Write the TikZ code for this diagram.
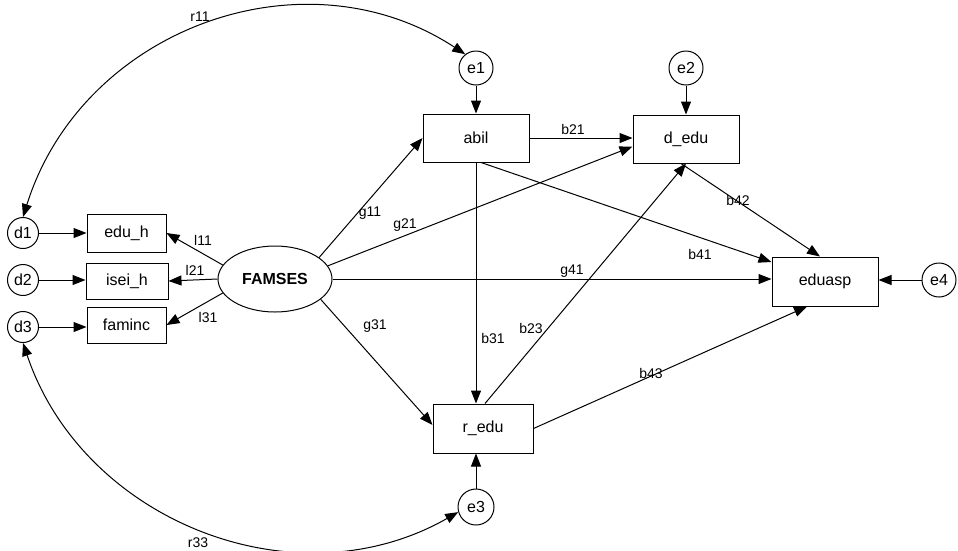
\documentclass[tikz,border=0pt]{standalone}
\usepackage{fontspec}
\setmainfont{Liberation Sans}
\usetikzlibrary{arrows.meta,shapes.geometric}
\begin{document}
\begin{tikzpicture}[x=1pt,y=-1pt,
  obs/.style={draw,line width=1pt,inner sep=0pt,font=\fontsize{16}{18}\selectfont},
  errc/.style={draw,circle,line width=1pt,inner sep=0pt,font=\fontsize{16}{18}\selectfont},
  lat/.style={draw,ellipse,line width=1pt,inner sep=0pt,minimum width=114pt,minimum height=66pt,font=\bfseries\fontsize{16}{18}\selectfont},
  pth/.style={line width=1pt,-{Triangle[length=13pt,width=10pt]}},
  cov/.style={line width=1pt,{Triangle[length=13pt,width=10pt]}-{Triangle[length=13pt,width=10pt]}},
  lab/.style={font=\fontsize{14}{16}\selectfont,inner sep=1pt}]
\useasboundingbox (0,0) rectangle (958,550);
% nodes
\node[errc,minimum size=31pt] (d1) at (23,233) {d1};
\node[errc,minimum size=31pt] (d2) at (23,280) {d2};
\node[errc,minimum size=31pt] (d3) at (23,327) {d3};
\node[obs,minimum width=79pt,minimum height=38pt] (eduh) at (126.5,233) {edu\_h};
\node[obs,minimum width=82pt,minimum height=36pt] (isei) at (127,281) {isei\_h};
\node[obs,minimum width=79pt,minimum height=36pt] (faminc) at (126.5,325) {faminc};
\node[lat] (fam) at (275,279) {FAMSES};
\node[obs,minimum width=106pt,minimum height=48pt] (abil) at (476,138) {abil};
\node[obs,minimum width=106pt,minimum height=48pt] (dedu) at (686,139) {d\_edu};
\node[obs,minimum width=106pt,minimum height=49pt] (eduasp) at (825,281.5) {eduasp};
\node[obs,minimum width=100pt,minimum height=49pt] (redu) at (483,428.5) {r\_edu};
\node[errc,minimum size=34pt] (e1) at (476,68) {e1};
\node[errc,minimum size=34pt] (e2) at (686,68) {e2};
\node[errc,minimum size=36pt] (e3) at (476,507) {e3};
\node[errc,minimum size=34pt] (e4) at (939,280) {e4};
% measurement
\draw[pth] (d1) -- (eduh);
\draw[pth] (d2) -- (d2 -| isei.west);
\draw[pth] (d3) -- (d3 -| faminc.west);
\draw[pth] (fam.165) -- (eduh.east);
\draw[pth] (fam.west) -- (isei.east);
\draw[pth] (fam.195) -- (faminc.east);
% structural
\draw[pth] (fam.26) -- (abil.west);
\draw[pth] (fam.14) -- (dedu.188);
\draw[pth] (fam.east) -- (fam.east -| eduasp.west);
\draw[pth] (fam.-24) -- (redu.176);
\draw[pth] (abil.east) -- (abil.east -| dedu.west);
\draw[pth] (abil.south) -- (abil.south |- redu.north);
\draw[pth] ([xshift=5pt]abil.south) -- (eduasp.160);
\draw[pth] ([xshift=-5pt]dedu.south) -- ([xshift=-5pt]eduasp.north);
\draw[pth] ([xshift=2pt]redu.north) -- (dedu.south);
\draw[pth] (redu.east) -- ([xshift=-18pt]eduasp.south);
% errors
\draw[pth] (e1) -- (abil);
\draw[pth] (e2) -- (dedu);
\draw[pth] (e3.north) -- (e3.north |- redu.south);
\draw[pth] (e4.west) -- (e4.west -| eduasp.east);
% covariances
\draw[cov] (d1.north) .. controls (82,29) and (303,-52) .. (e1.128);
\draw[cov] (d3.south) .. controls (83,521) and (295,605) .. (e3.196);
% labels
\node[lab] (lr11) at (200,17) {r11};
\node[lab] (lr33) at (198,543) {r33};
\node[lab] (ll11) at (203,240) {l11};
\node[lab] (ll21) at (195,270) {l21};
\node[lab] (ll31) at (208,317) {l31};
\node[lab] (lg11) at (370,213) {g11};
\node[lab] (lg21) at (405,225) {g21};
\node[lab] (lg41) at (572,271) {g41};
\node[lab] (lg31) at (375,326) {g31};
\node[lab] (lb21) at (573,129) {b21};
\node[lab] (lb41) at (700,254) {b41};
\node[lab] (lb42) at (738,200) {b42};
\node[lab] (lb31) at (493,338) {b31};
\node[lab] (lb23) at (531,328) {b23};
\node[lab] (lb43) at (651,373) {b43};
\end{tikzpicture}
\end{document}
